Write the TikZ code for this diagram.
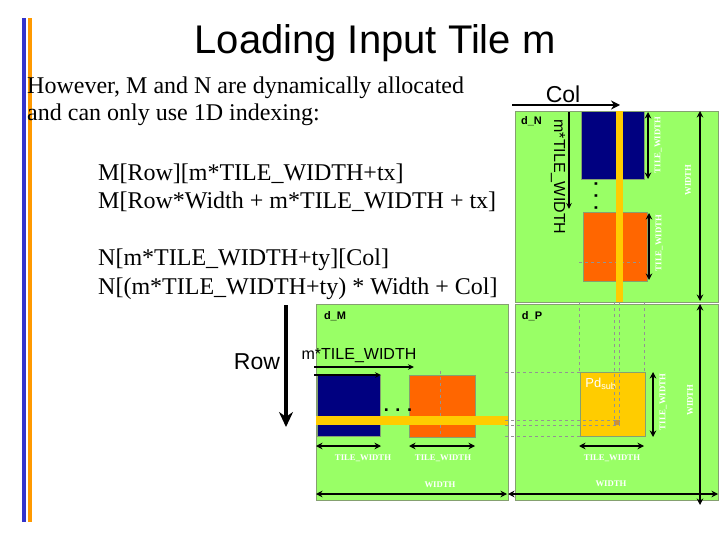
\documentclass[tikz,border=0pt]{standalone}
\usepackage{fontspec}
\setmainfont{Liberation Serif}
\setsansfont{Liberation Sans}
\usepackage{tikz}
\usetikzlibrary{arrows.meta}
\definecolor{gridgreen}{HTML}{99FF66}
\definecolor{tileblue}{HTML}{000080}
\definecolor{tileorange}{HTML}{FF6600}
\definecolor{stripyellow}{HTML}{FFCC00}
\definecolor{barblue}{HTML}{3333CC}
\definecolor{barorange}{HTML}{FF9900}
\definecolor{edgegray}{HTML}{85A070}
\tikzset{%
	box/.style={rectangle,inner sep=0pt,anchor=north west,draw=edgegray,line width=0.8pt,name=#1},
	strip/.style={rectangle,inner sep=0pt,anchor=north west,fill=stripyellow,name=#1},
	dim/.style={{Stealth[length=6.5pt,width=6.5pt]}-{Stealth[length=6.5pt,width=6.5pt]},line width=1.3pt},
	ptr/.style={-{Stealth[length=6pt,width=5.5pt]},line width=1.2pt},
	guide/.style={dashed,draw=gray!85,line width=0.5pt},
	slab/.style={text=white,font=\bfseries\fontsize{8.7}{8.7}\selectfont,inner sep=0pt},
	head/.style={font=\sffamily\fontsize{40}{40}\selectfont,inner sep=0pt},
	body/.style={font=\fontsize{24}{24}\selectfont,anchor=west,inner sep=0pt},
	code/.style={font=\fontsize{24}{24}\selectfont,anchor=west,inner sep=0pt},
	big/.style={font=\sffamily\fontsize{23}{23}\selectfont,inner sep=0pt},
	mid/.style={font=\sffamily\fontsize{16}{16}\selectfont,inner sep=0pt},
	gridname/.style={font=\sffamily\bfseries\fontsize{11}{11}\selectfont,inner sep=0pt},
	dots/.style={font=\sffamily\bfseries\fontsize{18}{18}\selectfont,inner sep=0pt}
}

\begin{document}
\begin{tikzpicture}[x=1pt,y=-1pt]
	\useasboundingbox (0,0) rectangle (720,540);
	% side bars
	\node [strip=barA, fill=barblue, draw=none, minimum width=4, minimum height=504] at (22,18) {};
	\node [strip=barB, fill=barorange, minimum width=4, minimum height=504] at (28,18) {};
	% text
	\node [head] (title) at (375,43) {Loading Input Tile m};
	\node [body] (txtA) at (27,88) {However, M and N are dynamically allocated};
	\node [body] (txtB) at (27,115) {and can only use 1D indexing:};
	\node [code] (txtC) at (98,174) {M[Row][m*TILE\_WIDTH+tx]};
	\node [code] (txtD) at (98,202) {M[Row*Width + m*TILE\_WIDTH + tx]};
	\node [code] (txtE) at (98,260) {N[m*TILE\_WIDTH+ty][Col]};
	\node [code] (txtF) at (98,289) {N[(m*TILE\_WIDTH+ty) * Width + Col]};
	% grids
	\node [box=gridN, fill=gridgreen, minimum width=203, minimum height=191] at (515,111) {};
	\node [box=gridM, fill=gridgreen, minimum width=192, minimum height=196] at (316,304) {};
	\node [box=gridP, fill=gridgreen, minimum width=203, minimum height=196] at (515,304) {};
	\node [gridname] (nameN) at (531.5,121) {d\_N};
	\node [gridname] (nameM) at (335,316) {d\_M};
	\node [gridname] (nameP) at (532,316) {d\_P};
	% tiles of d_N
	\node [box=blueN, fill=tileblue, minimum width=63, minimum height=68] at (581,111) {};
	\node [box=orangeN, fill=tileorange, minimum width=64, minimum height=69] at (582.5,212) {};
	\coordinate (crossA) at (579,262);
	\coordinate (crossB) at (640,262);
	\draw [guide] (crossA) -- (crossB);
	\node [strip=stripN, minimum width=7, minimum height=191] at (616,111) {};
	\node [dots, rotate=90] (dotsN) at (596,196) {. . .};
	% tiles of d_M
	\node [box=blueM, fill=tileblue, minimum width=63, minimum height=61] at (317,375) {};
	\node [box=orangeM, fill=tileorange, minimum width=66, minimum height=62] at (409,375) {};
	\coordinate (crossC) at (440,371);
	\coordinate (crossD) at (440,437);
	\draw [guide] (crossC) -- (crossD);
	\node [strip=stripM, minimum width=192, minimum height=9] at (316,416) {};
	\node [dots] (dotsM) at (398,410) {. . .};
	% tile of d_P
	\node [box=subP, fill=stripyellow, minimum width=65, minimum height=64] at (579.5,372) {};
	\node [rectangle, fill=brown!80!stripyellow, inner sep=0pt, minimum width=5.5, minimum height=5, anchor=north west] (cellP) at (614,420) {};
	\node [font=\sffamily\fontsize{13}{13}\selectfont, text=white, inner sep=0pt] (pd) at (601,384) {Pd\textsubscript{sub}};
	% guides between the grids
	\foreach \gx/\gy [count=\i] in {579.5/372, 614.5/425, 619.5/425, 644/372} {
		\coordinate (vtop\i) at (\gx,302);
		\coordinate (vbot\i) at (\gx,\gy);
		\draw [guide] (vtop\i) -- (vbot\i);
	}
	\foreach \gx/\gy [count=\i] in {579.5/372, 619.5/420, 619.5/425, 579.5/436} {
		\coordinate (hleft\i) at (505,\gy);
		\coordinate (hright\i) at (\gx,\gy);
		\draw [guide] (hleft\i) -- (hright\i);
	}
	% Col and Row
	\node [big] (col) at (563,94) {Col};
	\node [big] (row) at (257,362) {Row};
	\coordinate (colA) at (512,105);
	\coordinate (colB) at (620,105);
	\draw [-{Stealth[length=9pt,width=9pt]}, line width=2.2pt] (colA) -- (colB);
	\coordinate (rowA) at (286,305);
	\coordinate (rowB) at (286,427);
	\draw [-{Stealth[length=15pt,width=14pt]}, line width=3.2pt] (rowA) -- (rowB);
	% m*TILE_WIDTH pointers
	\node [mid, rotate=-90] (offN) at (558,177) {m*TILE\_WIDTH};
	\coordinate (offNa) at (569,112);
	\coordinate (offNb) at (569,209);
	\draw [ptr] (offNa) -- (offNb);
	\node [mid] (offM) at (359,356) {m*TILE\_WIDTH};
	\coordinate (offMa) at (314,367);
	\coordinate (offMb) at (414,367);
	\draw [ptr] (offMa) -- (offMb);
	\coordinate (offMc) at (314,375);
	\coordinate (offMd) at (381,375);
	\draw [ptr] (offMc) -- (offMd);
	% dimension arrows
	\foreach \name/\ax/\ay/\bx/\by in {
		a/648/112/648/179, b/649/213/649/280, c/700/111/700/301,
		d/653/372/653/437, e/700/304/700/505,
		f/316/446/381/446, g/409/446/475/446, h/579/446/644/446,
		i/316/494/507/494, j/508/494/718/494} {
		\coordinate (\name A) at (\ax,\ay);
		\coordinate (\name B) at (\bx,\by);
		\draw [dim] (\name A) -- (\name B);
	}
	% small white labels
	\node [slab, rotate=90] (labA) at (658,145) {TILE\_WIDTH};
	\node [slab, rotate=90] (labB) at (659,243) {TILE\_WIDTH};
	\node [slab, rotate=90] (labC) at (688,180) {WIDTH};
	\node [slab, rotate=90] (labD) at (663,402) {TILE\_WIDTH};
	\node [slab, rotate=90] (labE) at (690,400) {WIDTH};
	\node [slab] (labF) at (363,458) {TILE\_WIDTH};
	\node [slab] (labG) at (443,458) {TILE\_WIDTH};
	\node [slab] (labH) at (612,458) {TILE\_WIDTH};
	\node [slab] (labI) at (440,485) {WIDTH};
	\node [slab] (labJ) at (611,484) {WIDTH};
\end{tikzpicture}
\end{document}
